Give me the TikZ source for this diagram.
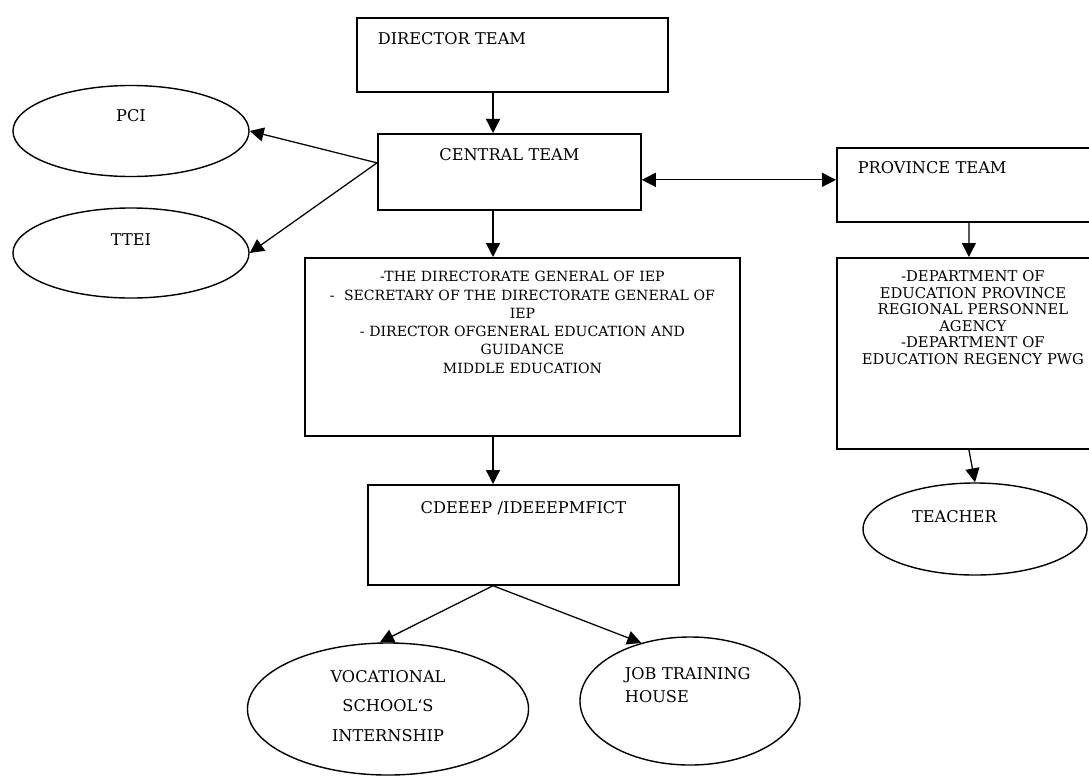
\documentclass[tikz,border=0pt]{standalone}
\usepackage{fontspec}
\setmainfont{DejaVu Serif}
\usetikzlibrary{arrows.meta,shapes.geometric}
\begin{document}
\begin{tikzpicture}[x=0.025cm,y=-0.025cm,
  team/.style={draw,line width=1.2pt,rectangle,inner sep=0pt,anchor=north west,font=\fontsize{11.5}{13}\selectfont},
  oval/.style={draw,line width=1pt,ellipse,inner sep=0pt,font=\fontsize{11.5}{13}\selectfont},
  arr/.style={-{Triangle[length=0.35cm,width=0.35cm]},line width=0.9pt},
  dblarr/.style={{Triangle[length=0.35cm,width=0.35cm]}-{Triangle[length=0.35cm,width=0.35cm]},line width=0.9pt}]

\useasboundingbox (0,0) rectangle (1089,776);

% boxes
\node[team,inner xsep=0.525cm,text width=6.725cm,align=left,text height=0.675cm,text depth=1.175cm] (director) at (356,17) {DIRECTOR TEAM};
\node[team,text width=6.575cm,align=center,text height=0.675cm,text depth=1.225cm] (central) at (377,133) {CENTRAL TEAM};
\node[team,text width=10.875cm,align=center,text height=0.6cm,text depth=3.85cm,font=\fontsize{10}{13}\selectfont] (bigbox) at (304,257)
  {-THE DIRECTORATE GENERAL OF IEP\\-~ SECRETARY OF THE DIRECTORATE GENERAL OF\\IEP\\- DIRECTOR OFGENERAL EDUCATION AND\\GUIDANCE\\MIDDLE EDUCATION};
\node[team,text width=7.775cm,align=center,text height=0.725cm,text depth=1.775cm] (cdeeep) at (367,484) {CDEEEP /IDEEEPMFICT};
\node[team,inner xsep=0.525cm,text width=5.75cm,align=left,text height=0.65cm,text depth=1.2cm] (province) at (836,147) {PROVINCE TEAM};
\node[team,text width=6.8cm,align=center,text height=0.6cm,text depth=4.175cm,font=\fontsize{10.5}{11.7}\selectfont] (provbig) at (836,257)
  {-DEPARTMENT OF\\EDUCATION PROVINCE\\REGIONAL PERSONNEL\\AGENCY\\-DEPARTMENT OF\\EDUCATION REGENCY PWG};

% ovals
\node[oval,minimum width=5.9cm,minimum height=2.275cm,text height=0.4cm,text depth=0.85cm] (pci) at (131,131) {PCI};
\node[oval,minimum width=5.9cm,minimum height=2.25cm,text height=0.4cm,text depth=0.8cm] (ttei) at (131,253) {TTEI};
\node[oval,minimum width=5.6cm,minimum height=2.3cm,text width=3.15cm,align=left,text height=0.4cm,text depth=0.75cm] (teacher) at (975,529) {TEACHER};
\node[oval,minimum width=7.025cm,minimum height=3.3cm,text width=4cm,align=center,text height=0.3cm,text depth=1.65cm,font=\fontsize{11.5}{21.3}\selectfont] (voc) at (388,709)
  {VOCATIONAL\\SCHOOL`S\\INTERNSHIP};
\node[oval,minimum width=5.5cm,minimum height=3.2cm,text width=3.25cm,align=left,text height=0.35cm,text depth=1.45cm,font=\fontsize{11.5}{17}\selectfont] (job) at (690,701)
  {JOB TRAINING\\HOUSE};

% connectors
\coordinate (spine) at (493,0);
\draw[arr] (director.south -| spine) -- (central.north -| spine);
\draw[arr] (central.south -| spine) -- (bigbox.north -| spine);
\draw[arr] (bigbox.south -| spine) -- (cdeeep.north -| spine);
\draw[arr] ([yshift=0.225cm]central.west) -- (pci.east);
\draw[arr] ([yshift=0.225cm]central.west) -- (ttei.east);
\draw[dblarr] ([yshift=-0.2cm]central.east) -- ([yshift=-0.2cm]central.east -| province.west);
\draw[arr] ([xshift=-0.1cm]province.south) -- ([xshift=-0.1cm]provbig.north);
\draw[arr] ([xshift=-0.1cm]provbig.south) -- (teacher.north);
\draw[arr] (cdeeep.south -| spine) -- (voc.97);
\draw[arr] (cdeeep.south -| spine) -- (job.130);
\end{tikzpicture}
\end{document}
